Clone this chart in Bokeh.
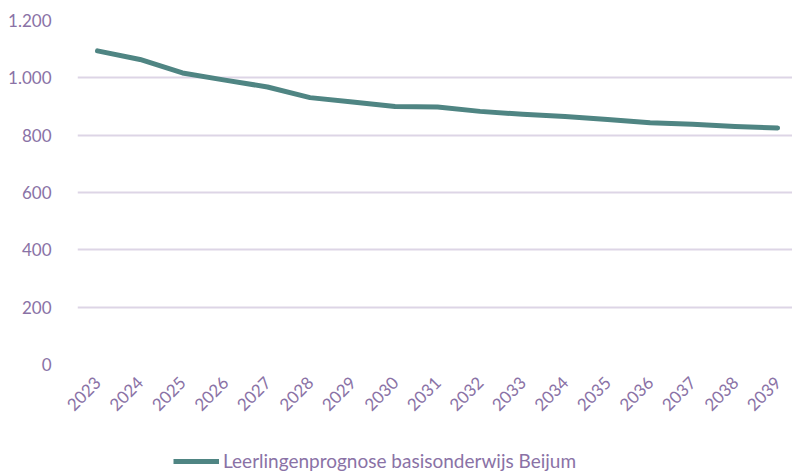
from bokeh.plotting import figure
from bokeh.models import Range1d, FixedTicker, Legend, LegendItem
from bokeh.layouts import column
from bokeh.embed import file_html
from bokeh.resources import INLINE
import math

years = list(range(2023, 2040))
leerlingen = [1094, 1064, 1017, 992, 968, 931, 916, 900, 898, 883, 873, 865, 855, 843, 838, 830, 825]
y_ticks = [0, 200, 400, 600, 800, 1000, 1200]
y_tick_labels = ["0", "200", "400", "600", "800", "1.000", "1.200"]
series_name = "Leerlingenprognose basisonderwijs Beijum"

TEXT = "#8a72a6"
GRID = "#ddd5e6"
LINE = "#4f8583"
FONT = "Lato"

p = figure(width=792, height=440, output_backend="svg", toolbar_location=None,
           x_range=Range1d(2022.53, 2039.35), y_range=Range1d(0, 1200),
           min_border_left=77, min_border_right=0, min_border_top=20, min_border_bottom=76)
p.outline_line_color = None

r = p.line(years, leerlingen, line_color=LINE, line_width=5, line_cap="round", line_join="round")

p.xaxis.ticker = FixedTicker(ticks=years)
p.xaxis.major_label_orientation = math.pi / 4
p.yaxis.ticker = FixedTicker(ticks=y_ticks)
p.yaxis.major_label_overrides = {t: l for t, l in zip(y_ticks, y_tick_labels)}

for ax in (p.xaxis, p.yaxis):
    ax.axis_line_color = None
    ax.major_tick_line_color = None
    ax.minor_tick_line_color = None
    ax.major_label_text_color = TEXT
    ax.major_label_text_font = FONT
    ax.major_label_text_font_size = "17px"
p.yaxis.major_label_standoff = 20
p.xaxis.major_label_standoff = 9

p.xgrid.grid_line_color = None
p.ygrid.grid_line_color = GRID
p.ygrid.grid_line_width = 2

# legend strip below the chart (its frame is aligned with the chart frame)
lf = figure(width=792, height=36, output_backend="svg", toolbar_location=None,
            x_range=Range1d(0, 1), y_range=Range1d(0, 1),
            x_axis_type=None, y_axis_type=None,
            min_border_left=0, min_border_right=0, min_border_top=0, min_border_bottom=0)
lf.outline_line_color = None
lf.grid.visible = False
dummy = lf.line([5, 6], [5, 6], line_color=LINE, line_width=5)

legend = Legend(items=[LegendItem(label=series_name, renderers=[dummy])],
                location=(96, 4), orientation="horizontal",
                label_text_color=TEXT, label_text_font=FONT, label_text_font_size="19px",
                glyph_width=46, border_line_color=None, background_fill_alpha=0,
                margin=0, padding=0, label_standoff=4)
lf.add_layout(legend)

open("out.html", "w").write(file_html(column(p, lf, spacing=0), INLINE))
